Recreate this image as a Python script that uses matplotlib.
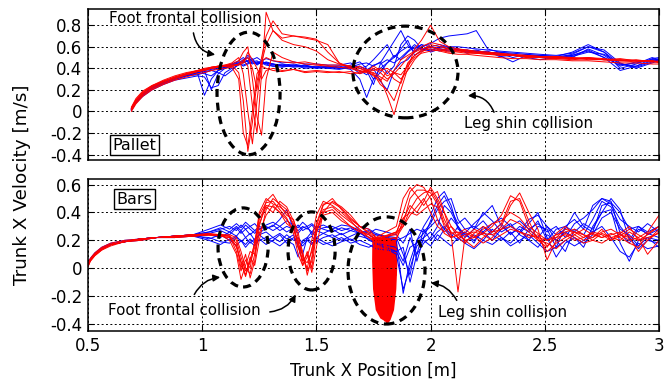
import matplotlib.pyplot as plt
from matplotlib.patches import Ellipse

# ---- top panel (Pallet) ----
top_x = [0.69, 0.71, 0.74, 0.78, 0.83, 0.88, 0.93, 0.98, 1.01, 1.04,
         1.07, 1.10, 1.13, 1.16, 1.18, 1.20, 1.22, 1.24, 1.26, 1.28,
         1.31, 1.35, 1.40, 1.45, 1.50, 1.55, 1.60, 1.65, 1.69, 1.72,
         1.75, 1.78, 1.81, 1.84, 1.87, 1.90, 1.93, 1.96, 2.00, 2.04,
         2.08, 2.12, 2.16, 2.20, 2.25, 2.30, 2.36, 2.42, 2.48, 2.55,
         2.62, 2.69, 2.76, 2.83, 2.90, 2.97, 3.00]

top_blue_1 = [0.02, 0.09, 0.16, 0.22, 0.27, 0.30, 0.33, 0.35, 0.15, 0.30,
              0.38, 0.40, 0.42, 0.44, 0.46, 0.47, 0.45, 0.44, 0.46, 0.45,
              0.43, 0.44, 0.42, 0.43, 0.41, 0.40, 0.41, 0.39, 0.30, 0.13,
              0.30, 0.40, 0.45, 0.52, 0.48, 0.55, 0.60, 0.58, 0.56, 0.60,
              0.58, 0.57, 0.55, 0.56, 0.54, 0.53, 0.52, 0.52, 0.51, 0.50,
              0.50, 0.58, 0.52, 0.42, 0.46, 0.48, 0.47]
top_blue_2 = [0.03, 0.10, 0.17, 0.23, 0.27, 0.31, 0.34, 0.36, 0.38, 0.20,
              0.35, 0.40, 0.43, 0.45, 0.48, 0.50, 0.46, 0.47, 0.44, 0.46,
              0.44, 0.42, 0.43, 0.41, 0.42, 0.40, 0.39, 0.41, 0.42, 0.38,
              0.43, 0.45, 0.55, 0.65, 0.75, 0.62, 0.55, 0.60, 0.63, 0.68,
              0.70, 0.71, 0.72, 0.75, 0.58, 0.55, 0.54, 0.53, 0.52, 0.51,
              0.55, 0.62, 0.55, 0.40, 0.44, 0.50, 0.48]
top_blue_3 = [0.02, 0.08, 0.15, 0.21, 0.26, 0.30, 0.33, 0.36, 0.37, 0.38,
              0.36, 0.33, 0.38, 0.44, 0.43, 0.45, 0.48, 0.44, 0.45, 0.43,
              0.42, 0.41, 0.43, 0.40, 0.41, 0.42, 0.40, 0.43, 0.46, 0.40,
              0.30, 0.36, 0.45, 0.50, 0.58, 0.66, 0.52, 0.56, 0.58, 0.56,
              0.59, 0.57, 0.56, 0.55, 0.55, 0.54, 0.50, 0.53, 0.50, 0.49,
              0.52, 0.56, 0.50, 0.38, 0.42, 0.47, 0.49]
top_blue_4 = [0.03, 0.10, 0.16, 0.22, 0.27, 0.31, 0.34, 0.36, 0.35, 0.33,
              0.38, 0.41, 0.43, 0.45, 0.42, 0.44, 0.46, 0.45, 0.47, 0.44,
              0.42, 0.43, 0.41, 0.42, 0.40, 0.41, 0.42, 0.40, 0.38, 0.34,
              0.40, 0.28, 0.20, 0.38, 0.45, 0.48, 0.56, 0.62, 0.55, 0.58,
              0.57, 0.58, 0.54, 0.56, 0.55, 0.52, 0.46, 0.52, 0.51, 0.50,
              0.51, 0.55, 0.53, 0.44, 0.41, 0.46, 0.48]
top_blue_5 = [0.01, 0.09, 0.15, 0.22, 0.26, 0.30, 0.33, 0.34, 0.36, 0.38,
              0.40, 0.41, 0.44, 0.47, 0.50, 0.46, 0.44, 0.46, 0.44, 0.45,
              0.44, 0.42, 0.42, 0.43, 0.40, 0.42, 0.40, 0.41, 0.44, 0.45,
              0.42, 0.46, 0.35, 0.42, 0.62, 0.70, 0.66, 0.58, 0.57, 0.60,
              0.60, 0.58, 0.56, 0.57, 0.54, 0.55, 0.53, 0.50, 0.48, 0.50,
              0.53, 0.60, 0.57, 0.45, 0.40, 0.45, 0.47]
top_blue_6 = [0.02, 0.10, 0.17, 0.23, 0.28, 0.31, 0.34, 0.37, 0.38, 0.39,
              0.41, 0.42, 0.44, 0.46, 0.45, 0.47, 0.49, 0.43, 0.46, 0.45,
              0.44, 0.43, 0.44, 0.42, 0.41, 0.41, 0.40, 0.42, 0.35, 0.38,
              0.25, 0.44, 0.48, 0.45, 0.50, 0.56, 0.62, 0.57, 0.60, 0.58,
              0.56, 0.57, 0.57, 0.55, 0.56, 0.51, 0.52, 0.52, 0.52, 0.51,
              0.52, 0.57, 0.50, 0.43, 0.45, 0.48, 0.48]
top_blue_7 = [0.01, 0.08, 0.14, 0.20, 0.25, 0.29, 0.31, 0.33, 0.32, 0.22,
              0.24, 0.36, 0.40, 0.43, 0.47, 0.52, 0.48, 0.50, 0.47, 0.49,
              0.47, 0.45, 0.46, 0.44, 0.44, 0.43, 0.43, 0.45, 0.40, 0.42,
              0.48, 0.55, 0.62, 0.50, 0.56, 0.60, 0.58, 0.62, 0.60, 0.62,
              0.60, 0.60, 0.59, 0.58, 0.57, 0.56, 0.55, 0.54, 0.53, 0.52,
              0.54, 0.60, 0.55, 0.44, 0.42, 0.49, 0.50]

top_red_1 = [0.03, 0.11, 0.18, 0.24, 0.28, 0.32, 0.35, 0.38, 0.39, 0.40,
             0.41, 0.42, 0.43, 0.36, 0.10, -0.37, -0.10, 0.28, 0.46, 0.50,
             0.47, 0.46, 0.45, 0.46, 0.44, 0.43, 0.43, 0.42, 0.40, 0.37,
             0.40, 0.36, 0.30, 0.35, 0.42, 0.50, 0.55, 0.58, 0.60, 0.58,
             0.57, 0.58, 0.56, 0.55, 0.54, 0.53, 0.52, 0.52, 0.51, 0.50,
             0.49, 0.50, 0.49, 0.47, 0.48, 0.46, 0.46]
top_red_2 = [0.01, 0.08, 0.15, 0.21, 0.26, 0.30, 0.34, 0.37, 0.38, 0.40,
             0.41, 0.42, 0.42, 0.44, 0.48, 0.42, 0.05, -0.20, 0.35, 0.92,
             0.75, 0.66, 0.62, 0.60, 0.56, 0.48, 0.44, 0.42, 0.40, 0.38,
             0.35, 0.25, 0.20, 0.10, 0.28, 0.45, 0.52, 0.57, 0.62, 0.60,
             0.58, 0.56, 0.57, 0.55, 0.55, 0.54, 0.53, 0.52, 0.50, 0.51,
             0.50, 0.49, 0.48, 0.49, 0.47, 0.47, 0.46]
top_red_3 = [0.02, 0.10, 0.17, 0.23, 0.28, 0.32, 0.35, 0.37, 0.39, 0.41,
             0.42, 0.43, 0.45, 0.50, 0.35, 0.00, -0.30, 0.10, 0.45, 0.62,
             0.75, 0.68, 0.70, 0.69, 0.67, 0.55, 0.45, 0.41, 0.38, 0.36,
             0.34, 0.30, 0.15, -0.03, 0.20, 0.40, 0.58, 0.66, 0.80, 0.65,
             0.60, 0.58, 0.57, 0.56, 0.55, 0.54, 0.52, 0.51, 0.51, 0.50,
             0.49, 0.50, 0.48, 0.48, 0.47, 0.46, 0.46]
top_red_4 = [0.04, 0.12, 0.19, 0.24, 0.29, 0.33, 0.36, 0.38, 0.40, 0.41,
             0.42, 0.43, 0.44, 0.47, 0.55, 0.60, 0.30, -0.05, -0.22, 0.30,
             0.55, 0.50, 0.46, 0.44, 0.43, 0.42, 0.41, 0.40, 0.42, 0.39,
             0.38, 0.40, 0.33, 0.36, 0.30, 0.38, 0.48, 0.55, 0.60, 0.57,
             0.56, 0.55, 0.54, 0.54, 0.53, 0.52, 0.52, 0.51, 0.50, 0.49,
             0.48, 0.49, 0.48, 0.47, 0.46, 0.47, 0.45]
top_red_5 = [0.02, 0.09, 0.16, 0.22, 0.27, 0.31, 0.34, 0.37, 0.38, 0.40,
             0.41, 0.42, 0.42, 0.43, 0.45, 0.55, 0.48, 0.40, 0.30, 0.38,
             0.40, 0.38, 0.39, 0.37, 0.38, 0.37, 0.36, 0.37, 0.35, 0.37,
             0.42, 0.38, 0.40, 0.36, 0.34, 0.42, 0.50, 0.54, 0.56, 0.57,
             0.55, 0.56, 0.55, 0.54, 0.53, 0.53, 0.52, 0.50, 0.50, 0.49,
             0.50, 0.48, 0.48, 0.47, 0.47, 0.46, 0.47]
top_red_6 = [0.03, 0.10, 0.17, 0.23, 0.28, 0.31, 0.35, 0.38, 0.39, 0.41,
             0.42, 0.42, 0.43, 0.44, 0.46, 0.50, 0.40, 0.20, 0.50, 0.70,
             0.84, 0.72, 0.70, 0.68, 0.66, 0.62, 0.45, 0.40, 0.37, 0.38,
             0.36, 0.32, 0.28, 0.38, 0.48, 0.52, 0.56, 0.60, 0.64, 0.62,
             0.58, 0.57, 0.55, 0.54, 0.54, 0.53, 0.52, 0.52, 0.51, 0.51,
             0.49, 0.49, 0.48, 0.48, 0.47, 0.47, 0.46]
top_red_7 = [0.00, 0.07, 0.14, 0.20, 0.25, 0.29, 0.32, 0.35, 0.36, 0.38,
             0.39, 0.40, 0.41, 0.30, -0.20, -0.32, 0.00, 0.35, 0.42, 0.40,
             0.38, 0.37, 0.39, 0.36, 0.37, 0.36, 0.37, 0.35, 0.36, 0.38,
             0.33, 0.28, 0.38, 0.30, 0.26, 0.44, 0.52, 0.56, 0.58, 0.56,
             0.54, 0.53, 0.53, 0.52, 0.51, 0.50, 0.49, 0.49, 0.48, 0.48,
             0.47, 0.47, 0.46, 0.45, 0.45, 0.44, 0.44]

# ---- bottom panel (Bars) ----
bot_x = [0.50, 0.51, 0.53, 0.56, 0.60, 0.66, 0.73, 0.80, 0.88, 0.96,
         1.03, 1.08, 1.12, 1.15, 1.17, 1.19, 1.21, 1.23, 1.25, 1.28,
         1.31, 1.34, 1.37, 1.40, 1.42, 1.44, 1.46, 1.48, 1.50, 1.53,
         1.57, 1.61, 1.65, 1.69, 1.73, 1.76, 1.85, 1.88, 1.91, 1.94,
         1.97, 2.00, 2.03, 2.06, 2.09, 2.12, 2.15, 2.19, 2.23, 2.27,
         2.31, 2.35, 2.39, 2.43, 2.47, 2.51, 2.55, 2.59, 2.63, 2.67,
         2.71, 2.75, 2.79, 2.83, 2.87, 2.91, 2.95, 3.00]

bot_blue_1 = [0.02, 0.06, 0.10, 0.14, 0.17, 0.19, 0.21, 0.22, 0.23, 0.24,
              0.26, 0.28, 0.30, 0.27, 0.31, 0.28, 0.30, 0.27, 0.30, 0.28,
              0.31, 0.27, 0.30, 0.28, 0.31, 0.27, 0.29, 0.26, 0.30, 0.28,
              0.26, 0.29, 0.27, 0.30, 0.28, 0.25, 0.20, -0.18, 0.05, 0.20,
              0.30, 0.38, 0.50, 0.55, 0.45, 0.28, 0.25, 0.32, 0.38, 0.45,
              0.30, 0.25, 0.28, 0.20, 0.30, 0.28, 0.15, 0.30, 0.35, 0.28,
              0.45, 0.50, 0.48, 0.25, 0.18, 0.28, 0.25, 0.22]
bot_blue_2 = [0.02, 0.06, 0.10, 0.14, 0.17, 0.19, 0.20, 0.22, 0.22, 0.23,
              0.22, 0.19, 0.18, 0.22, 0.20, 0.17, 0.21, 0.18, 0.20, 0.22,
              0.19, 0.16, 0.20, 0.17, 0.08, 0.20, 0.22, 0.18, 0.20, 0.17,
              0.19, 0.22, 0.18, 0.20, 0.17, 0.14, 0.12, 0.15, -0.10, 0.10,
              0.18, 0.22, 0.30, 0.45, 0.40, 0.30, 0.18, 0.24, 0.20, 0.28,
              0.22, 0.18, 0.25, 0.32, 0.40, 0.22, 0.08, 0.18, 0.22, 0.15,
              0.30, 0.40, 0.42, 0.18, 0.05, 0.20, 0.22, 0.15]
bot_blue_3 = [0.03, 0.07, 0.11, 0.15, 0.18, 0.20, 0.21, 0.22, 0.23, 0.24,
              0.25, 0.27, 0.24, 0.29, 0.25, 0.28, 0.24, 0.27, 0.25, 0.29,
              0.30, 0.35, 0.42, 0.28, 0.25, 0.29, 0.30, 0.24, 0.27, 0.25,
              0.28, 0.24, 0.27, 0.25, 0.22, 0.24, 0.20, 0.22, 0.25, 0.28,
              0.26, 0.32, 0.42, 0.48, 0.50, 0.35, 0.28, 0.30, 0.26, 0.32,
              0.36, 0.30, 0.26, 0.35, 0.38, 0.30, 0.24, 0.28, 0.40, 0.30,
              0.26, 0.45, 0.47, 0.40, 0.28, 0.30, 0.24, 0.28]
bot_blue_4 = [0.02, 0.06, 0.10, 0.14, 0.17, 0.19, 0.21, 0.22, 0.23, 0.23,
              0.24, 0.22, 0.26, 0.23, 0.27, 0.22, 0.25, 0.20, 0.24, 0.26,
              0.22, 0.25, 0.21, 0.24, 0.15, 0.10, 0.22, 0.26, 0.22, 0.25,
              0.22, 0.25, 0.20, 0.23, 0.21, 0.18, 0.15, 0.05, 0.22, 0.10,
              0.28, 0.20, 0.26, 0.30, 0.24, 0.20, 0.26, 0.18, 0.30, 0.24,
              0.20, 0.26, 0.18, 0.28, 0.22, 0.30, 0.20, 0.12, 0.28, 0.24,
              0.35, 0.48, 0.44, 0.30, 0.22, 0.14, 0.20, 0.18]
bot_blue_5 = [0.02, 0.06, 0.10, 0.14, 0.17, 0.19, 0.21, 0.22, 0.22, 0.24,
              0.26, 0.29, 0.26, 0.30, 0.27, 0.31, 0.28, 0.25, 0.28, 0.30,
              0.27, 0.30, 0.26, 0.29, 0.27, 0.30, 0.28, 0.31, 0.27, 0.29,
              0.30, 0.27, 0.29, 0.25, 0.27, 0.24, 0.22, 0.10, -0.05, 0.20,
              0.25, 0.30, 0.35, 0.28, 0.36, 0.30, 0.22, 0.28, 0.34, 0.26,
              0.32, 0.24, 0.30, 0.26, 0.34, 0.20, 0.28, 0.30, 0.26, 0.32,
              0.28, 0.40, 0.50, 0.42, 0.20, 0.30, 0.26, 0.30]
bot_blue_6 = [0.02, 0.06, 0.10, 0.14, 0.17, 0.19, 0.21, 0.22, 0.23, 0.24,
              0.21, 0.24, 0.20, 0.23, 0.19, 0.22, 0.18, 0.21, 0.24, 0.20,
              0.22, 0.19, 0.24, 0.20, 0.22, 0.18, 0.21, 0.23, 0.19, 0.22,
              0.24, 0.20, 0.23, 0.26, 0.20, 0.18, 0.12, 0.02, 0.15, 0.18,
              0.22, 0.26, 0.20, 0.28, 0.22, 0.30, 0.24, 0.20, 0.26, 0.20,
              0.28, 0.32, 0.24, 0.20, 0.15, 0.24, 0.20, 0.26, 0.22, 0.18,
              0.24, 0.36, 0.40, 0.28, 0.24, 0.16, 0.22, 0.20]
bot_blue_7 = [0.02, 0.06, 0.10, 0.14, 0.17, 0.19, 0.21, 0.22, 0.23, 0.24,
              0.28, 0.31, 0.28, 0.32, 0.29, 0.33, 0.30, 0.32, 0.28, 0.31,
              0.33, 0.30, 0.34, 0.31, 0.29, 0.33, 0.30, 0.32, 0.29, 0.31,
              0.28, 0.31, 0.30, 0.27, 0.25, 0.28, 0.24, 0.18, 0.28, 0.05,
              0.22, 0.34, 0.45, 0.52, 0.42, 0.32, 0.36, 0.28, 0.40, 0.34,
              0.26, 0.30, 0.34, 0.28, 0.32, 0.26, 0.30, 0.22, 0.32, 0.36,
              0.42, 0.50, 0.46, 0.35, 0.30, 0.26, 0.32, 0.26]
bot_blue_8 = [0.02, 0.06, 0.10, 0.14, 0.17, 0.19, 0.21, 0.22, 0.23, 0.23,
              0.20, 0.17, 0.21, 0.16, 0.20, 0.15, 0.19, 0.16, 0.21, 0.17,
              0.20, 0.24, 0.18, 0.22, 0.19, 0.16, 0.20, 0.17, 0.22, 0.19,
              0.16, 0.19, 0.21, 0.17, 0.15, 0.18, 0.10, -0.15, 0.00, 0.16,
              0.20, 0.16, 0.24, 0.20, 0.16, 0.22, 0.18, 0.14, 0.20, 0.17,
              0.22, 0.16, 0.20, 0.24, 0.18, 0.12, 0.15, 0.20, 0.16, 0.20,
              0.26, 0.30, 0.22, 0.12, 0.08, 0.18, 0.14, 0.16]

bot_red_1 = [0.02, 0.06, 0.10, 0.14, 0.17, 0.19, 0.21, 0.22, 0.23, 0.23,
             0.24, 0.24, 0.23, 0.15, 0.05, -0.05, 0.08, 0.02, 0.20, 0.42,
             0.50, 0.46, 0.42, 0.30, 0.15, 0.05, 0.10, -0.03, 0.15, 0.40,
             0.48, 0.44, 0.38, 0.30, 0.25, 0.20, 0.25, 0.40, 0.55, 0.60,
             0.58, 0.50, 0.35, 0.25, 0.22, 0.24, 0.20, 0.22, 0.25, 0.30,
             0.38, 0.52, 0.48, 0.30, 0.25, 0.20, 0.22, 0.24, 0.20, 0.22,
             0.25, 0.22, 0.24, 0.26, 0.23, 0.20, 0.22, 0.25]
bot_red_2 = [0.01, 0.05, 0.09, 0.13, 0.16, 0.19, 0.20, 0.22, 0.22, 0.23,
             0.24, 0.23, 0.22, 0.18, 0.00, 0.10, -0.07, 0.05, 0.30, 0.48,
             0.53, 0.45, 0.38, 0.35, 0.22, 0.12, -0.05, 0.08, 0.30, 0.45,
             0.50, 0.42, 0.35, 0.30, 0.28, 0.22, 0.30, 0.50, 0.58, 0.52,
             0.45, 0.52, 0.55, 0.40, 0.30, 0.25, 0.28, 0.23, 0.18, 0.22,
             0.30, 0.45, 0.54, 0.40, 0.28, 0.06, 0.20, 0.25, 0.22, 0.18,
             0.20, 0.25, 0.22, 0.20, 0.26, 0.22, 0.10, 0.20]
bot_red_3 = [0.03, 0.07, 0.11, 0.15, 0.18, 0.20, 0.21, 0.22, 0.23, 0.24,
             0.24, 0.24, 0.20, 0.10, -0.08, 0.02, 0.12, 0.10, 0.35, 0.45,
             0.44, 0.40, 0.35, 0.28, 0.20, 0.02, 0.12, 0.00, 0.25, 0.42,
             0.44, 0.38, 0.33, 0.28, 0.22, 0.18, 0.20, 0.35, 0.45, 0.40,
             0.48, 0.58, 0.50, 0.40, 0.24, -0.17, 0.22, 0.28, 0.25, 0.24,
             0.28, 0.35, 0.32, 0.26, 0.20, 0.18, 0.14, 0.20, 0.24, 0.28,
             0.24, 0.22, 0.25, 0.22, 0.18, 0.15, 0.25, 0.30]
bot_red_4 = [0.02, 0.06, 0.10, 0.14, 0.17, 0.19, 0.21, 0.22, 0.23, 0.24,
             0.24, 0.24, 0.23, 0.20, 0.08, -0.02, 0.04, 0.15, 0.38, 0.47,
             0.48, 0.42, 0.36, 0.25, 0.10, 0.02, 0.08, 0.20, 0.38, 0.48,
             0.45, 0.40, 0.34, 0.27, 0.24, 0.20, 0.22, 0.30, 0.42, 0.50,
             0.54, 0.56, 0.48, 0.35, 0.25, 0.26, 0.20, 0.15, 0.22, 0.26,
             0.28, 0.30, 0.26, 0.24, 0.22, 0.12, 0.18, 0.22, 0.26, 0.22,
             0.26, 0.24, 0.20, 0.23, 0.28, 0.24, 0.20, 0.26]
bot_red_5 = [0.02, 0.06, 0.10, 0.14, 0.17, 0.19, 0.21, 0.22, 0.22, 0.23,
             0.24, 0.24, 0.24, 0.22, 0.12, 0.00, -0.04, 0.10, 0.25, 0.38,
             0.45, 0.40, 0.32, 0.28, 0.18, 0.10, -0.02, 0.05, 0.28, 0.40,
             0.42, 0.36, 0.30, 0.26, 0.22, 0.20, 0.26, 0.36, 0.40, 0.38,
             0.42, 0.46, 0.44, 0.30, 0.22, 0.24, 0.26, 0.22, 0.28, 0.32,
             0.34, 0.40, 0.36, 0.28, 0.22, 0.20, 0.24, 0.26, 0.28, 0.24,
             0.22, 0.26, 0.28, 0.24, 0.20, 0.22, 0.26, 0.38]
bot_red_6 = [0.01, 0.05, 0.09, 0.13, 0.17, 0.19, 0.20, 0.22, 0.23, 0.24,
             0.24, 0.23, 0.22, 0.16, 0.04, -0.06, 0.06, 0.18, 0.40, 0.50,
             0.46, 0.44, 0.40, 0.32, 0.16, 0.06, 0.04, 0.12, 0.32, 0.46,
             0.47, 0.43, 0.36, 0.30, 0.26, 0.22, 0.24, 0.32, 0.50, 0.56,
             0.56, 0.54, 0.46, 0.32, 0.26, 0.22, 0.24, 0.26, 0.24, 0.20,
             0.24, 0.28, 0.26, 0.22, 0.24, 0.16, 0.22, 0.28, 0.26, 0.24,
             0.20, 0.18, 0.22, 0.24, 0.22, 0.12, 0.20, 0.28]
bot_red_7 = [0.02, 0.06, 0.10, 0.14, 0.17, 0.19, 0.21, 0.22, 0.23, 0.24,
             0.25, 0.24, 0.23, 0.12, -0.02, 0.06, 0.00, 0.20, 0.32, 0.44,
             0.40, 0.48, 0.44, 0.34, 0.26, 0.08, 0.00, 0.14, 0.26, 0.38,
             0.40, 0.34, 0.30, 0.26, 0.24, 0.21, 0.26, 0.30, 0.38, 0.44,
             0.50, 0.40, 0.30, 0.26, 0.30, 0.22, 0.18, 0.25, 0.30, 0.26,
             0.32, 0.48, 0.50, 0.34, 0.20, 0.15, 0.25, 0.30, 0.24, 0.20,
             0.22, 0.28, 0.20, 0.25, 0.30, 0.20, 0.24, 0.30]

# robot stuck at the bars: back and forth oscillation
blob_x = [1.746, 1.790, 1.750, 1.800, 1.755, 1.810, 1.760, 1.815, 1.770, 1.820,
          1.780, 1.830, 1.790, 1.840, 1.800, 1.850, 1.810, 1.852]
blob_y = [0.22, -0.34, 0.20, -0.38, 0.24, -0.40, 0.20, -0.38, 0.22, -0.36,
          0.20, -0.30, 0.24, -0.20, 0.20, -0.05, 0.22, 0.15]
blob_edge_x = [1.745, 1.744, 1.748, 1.760, 1.780, 1.800, 1.813, 1.825, 1.840, 1.850, 1.855, 1.853]
blob_edge_y = [0.22, 0.05, -0.15, -0.30, -0.36, -0.38, -0.40, -0.37, -0.30, -0.15, 0.05, 0.22]

x_ticks = [0.5, 1, 1.5, 2, 2.5, 3]
x_ticklabels = ['0.5', '1', '1.5', '2', '2.5', '3']
top_yticks = [-0.4, -0.2, 0, 0.2, 0.4, 0.6, 0.8]
top_yticklabels = ['-0.4', '-0.2', '0', '0.2', '0.4', '0.6', '0.8']
bot_yticks = [-0.4, -0.2, 0, 0.2, 0.4, 0.6]
bot_yticklabels = ['-0.4', '-0.2', '0', '0.2', '0.4', '0.6']

BLUE = '#0000ff'
RED = '#ff0000'
LW = 0.7

fig = plt.figure(figsize=(6.71, 3.83), dpi=100)
ax1 = fig.add_axes([0.1311, 0.5822, 0.851, 0.3943])
ax2 = fig.add_axes([0.1311, 0.1358, 0.851, 0.3969])

for y in [top_blue_1, top_blue_2, top_blue_3, top_blue_4, top_blue_5, top_blue_6, top_blue_7]:
    ax1.plot(top_x, y, color=BLUE, lw=LW)
for y in [top_red_1, top_red_2, top_red_3, top_red_4, top_red_5, top_red_6, top_red_7]:
    ax1.plot(top_x, y, color=RED, lw=LW)

for y in [bot_blue_1, bot_blue_2, bot_blue_3, bot_blue_4, bot_blue_5, bot_blue_6,
          bot_blue_7, bot_blue_8]:
    ax2.plot(bot_x, y, color=BLUE, lw=LW)
ax2.fill(blob_edge_x, blob_edge_y, color=RED, lw=0)
ax2.plot(blob_x, blob_y, color=RED, lw=LW)
for y in [bot_red_1, bot_red_2, bot_red_3, bot_red_4, bot_red_5, bot_red_6, bot_red_7]:
    ax2.plot(bot_x, y, color=RED, lw=LW)

for ax, yt, ytl, ylim in [(ax1, top_yticks, top_yticklabels, (-0.45, 0.95)),
                          (ax2, bot_yticks, bot_yticklabels, (-0.45, 0.64))]:
    ax.set_xlim(0.5, 3)
    ax.set_ylim(*ylim)
    ax.set_xticks(x_ticks)
    ax.set_yticks(yt)
    ax.set_yticklabels(ytl)
    ax.grid(True, color='black', lw=0.7, ls=(0, (2, 2.5)))
    ax.tick_params(direction='in', top=True, right=True, length=4,
                   labelsize=12, pad=4)
    for s in ax.spines.values():
        s.set_linewidth(1.1)

ax1.set_xticklabels([])
ax2.set_xticklabels(x_ticklabels)

# collision ellipses
ell = dict(fill=False, ec='black', lw=2.3, ls=(0, (2.5, 1.8)), zorder=5)
ax1.add_patch(Ellipse((1.203, 0.167), 0.276, 1.136, **ell))
ax1.add_patch(Ellipse((1.890, 0.366), 0.46, 0.85, **ell))
ax2.add_patch(Ellipse((1.179, 0.149), 0.219, 0.567, **ell))
ax2.add_patch(Ellipse((1.479, 0.124), 0.206, 0.56, **ell))
ax2.add_patch(Ellipse((1.807, -0.016), 0.337, 0.768, **ell))

arrow = dict(arrowstyle='-|>', color='black', lw=1.1, mutation_scale=10)
fs = 10.8
ax1.text(0.925, 0.865, 'Foot frontal collision', fontsize=fs, ha='center', va='center', zorder=6)
ax1.annotate('', xy=(1.069, 0.523), xytext=(0.960, 0.754),
             arrowprops=dict(connectionstyle='arc3,rad=0.4', **arrow))
ax1.text(2.431, -0.114, 'Leg shin collision', fontsize=fs, ha='center', va='center')
ax1.annotate('', xy=(2.151, 0.144), xytext=(2.282, -0.031),
             arrowprops=dict(connectionstyle='arc3,rad=0.4', **arrow))

ax2.text(0.920, -0.300, 'Foot frontal collision', fontsize=fs, ha='center', va='center')
ax2.annotate('', xy=(1.091, -0.063), xytext=(0.960, -0.206),
             arrowprops=dict(connectionstyle='arc3,rad=-0.3', **arrow))
ax2.annotate('', xy=(1.415, -0.171), xytext=(1.284, -0.315),
             arrowprops=dict(connectionstyle='arc3,rad=0.3', **arrow))
ax2.text(2.313, -0.315, 'Leg shin collision', fontsize=fs, ha='center', va='center')
ax2.annotate('', xy=(1.989, -0.104), xytext=(2.120, -0.248),
             arrowprops=dict(connectionstyle='arc3,rad=0.3', **arrow))

box = dict(boxstyle='square,pad=0.15', fc='white', ec='black', lw=1.0)
ax1.text(0.081, 0.099, 'Pallet', transform=ax1.transAxes, fontsize=11.5,
         ha='center', va='center', bbox=box, zorder=7)
ax2.text(0.082, 0.868, 'Bars', transform=ax2.transAxes, fontsize=11.5,
         ha='center', va='center', bbox=box, zorder=7)

fig.text(22 / 671, 1 - 185 / 383, 'Trunk X Velocity [m/s]', rotation=90,
         fontsize=13.2, ha='center', va='center')
fig.text(373 / 671, 1 - 371 / 383, 'Trunk X Position [m]', fontsize=12,
         ha='center', va='center')

fig.savefig('out.png', dpi=100)
